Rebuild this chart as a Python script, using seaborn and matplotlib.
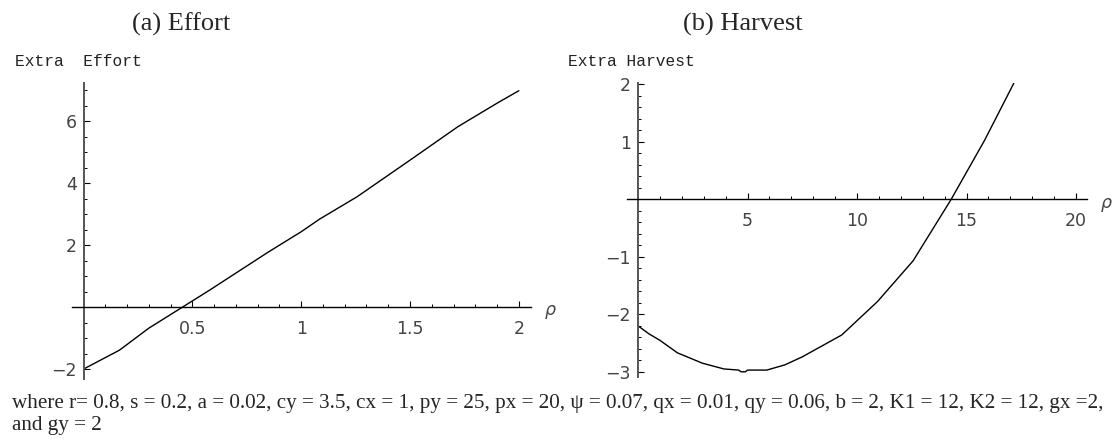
import numpy as np
import pandas as pd
import matplotlib
matplotlib.use("Agg")
import matplotlib.pyplot as plt
from matplotlib.ticker import MultipleLocator
import seaborn as sns

# ---- data ----
effort_rho = [0.0, 0.165, 0.30, 0.455, 0.58, 0.85, 1.0, 1.085, 1.257, 1.5, 1.72, 1.91, 2.0]
effort_val = [-2.0, -1.39, -0.68, 0.0, 0.55, 1.78, 2.43, 2.84, 3.56, 4.74, 5.82, 6.62, 6.98]

harvest_rho = [0.0, 0.5, 0.99, 1.8, 2.94, 3.92, 4.6, 4.7, 4.9, 5.0, 5.88, 6.7, 7.5, 9.3, 10.93, 12.56, 14.3, 15.83, 17.16]
harvest_val = [-2.20, -2.34, -2.45, -2.67, -2.85, -2.95, -2.97, -3.0, -3.0, -2.97, -2.97, -2.88, -2.74, -2.36, -1.78, -1.07, 0.0, 1.03, 2.02]

effort_xticks = [0.5, 1, 1.5, 2]
effort_xlabels = ["0.5", "1", "1.5", "2"]
effort_yticks = [-2, 2, 4, 6]
harvest_xticks = [5, 10, 15, 20]
harvest_yticks = [-3, -2, -1, 1, 2]

titles = ["(a) Effort", "(b) Harvest"]
ylabels = ["Extra  Effort", "Extra Harvest"]
caption_lines = [
    "where r= 0.8, s = 0.2, a = 0.02, cy = 3.5, cx = 1, py = 25, px = 20, \u03c8 = 0.07, "
    "qx = 0.01, qy = 0.06, b = 2, K1 = 12, K2 = 12, gx =2,",
    "and gy = 2",
]

df_e = pd.DataFrame({"rho": effort_rho, "val": effort_val})
df_h = pd.DataFrame({"rho": harvest_rho, "val": harvest_val})

sns.set_style("white")
plt.rcParams["font.family"] = ["DejaVu Sans"]

W, H = 1112, 441
fig = plt.figure(figsize=(W / 100, H / 100), dpi=100)

def px_axes(x0, x1, y0, y1):
    return fig.add_axes([x0 / W, 1 - y1 / H, (x1 - x0) / W, (y1 - y0) / H])

ax1 = px_axes(72, 531, 83.3, 379.3)
ax2 = px_axes(627.4, 1087, 83.3, 376.7)

sns.lineplot(data=df_e, x="rho", y="val", ax=ax1, color="black", linewidth=1.0, sort=False)
sns.lineplot(data=df_h, x="rho", y="val", ax=ax2, color="black", linewidth=1.0, sort=False)

ax1.set_xlim(-0.053, 2.056)
ax1.set_ylim(-2.33, 7.22)
ax2.set_xlim(-0.484, 20.5)
ax2.set_ylim(-3.085, 2.017)

tick_color = "#444444"
for ax, xt, xl, yt, xmin, ymin in [
    (ax1, effort_xticks, effort_xlabels, effort_yticks, 0.1, 0.5),
    (ax2, harvest_xticks, [str(v) for v in harvest_xticks], harvest_yticks, 1, 0.2),
]:
    ax.set_xlabel("")
    ax.set_ylabel("")
    for s in ["top", "right"]:
        ax.spines[s].set_visible(False)
    ax.spines["left"].set_position(("data", 0))
    ax.spines["bottom"].set_position(("data", 0))
    ax.spines["left"].set_color("#555555")
    ax.spines["left"].set_linewidth(1.4)
    ax.spines["bottom"].set_color("black")
    ax.spines["bottom"].set_linewidth(1.0)
    ax.set_xticks(xt)
    ax.set_xticklabels(xl)
    ax.set_yticks(yt)
    ax.set_yticklabels([str(v) if v >= 0 else "\u2212" + str(-v) for v in yt])
    ax.xaxis.set_minor_locator(MultipleLocator(xmin))
    ax.yaxis.set_minor_locator(MultipleLocator(ymin))
    ax.tick_params(which="major", direction="in", length=4, width=0.8, color="black",
                   labelsize=12.5, labelcolor=tick_color)
    ax.tick_params(which="minor", direction="in", length=2.2, width=0.7, color="black")
    ax.tick_params(axis="x", which="major", pad=9)
    ax.tick_params(axis="y", which="major", pad=5)
    ax.tick_params(left=True, bottom=True, which="both")
    ax.patch.set_alpha(0)

# rho labels
fig.text(550 / W, 1 - 310 / H, "\u03c1", fontsize=12.5, color=tick_color, style="italic",
         ha="center", va="center")
fig.text(1106 / W, 1 - 203 / H, "\u03c1", fontsize=12.5, color=tick_color, style="italic",
         ha="center", va="center")

# y-axis labels (monospace)
fig.text(15 / W, 1 - 61 / H, ylabels[0], fontsize=11.7, family="Liberation Mono",
         color="#222222", ha="left", va="center")
fig.text(568 / W, 1 - 61 / H, ylabels[1], fontsize=11.7, family="Liberation Mono",
         color="#222222", ha="left", va="center")

# titles
fig.text(181 / W, 1 - 24 / H, titles[0], fontsize=19, family="Liberation Serif",
         ha="center", va="center")
fig.text(743 / W, 1 - 24 / H, titles[1], fontsize=19, family="Liberation Serif",
         ha="center", va="center")

# caption
fig.text(12 / W, 1 - 408 / H, caption_lines[0], fontsize=15.25, family="Liberation Serif",
         ha="left", va="baseline")
fig.text(12 / W, 1 - 430 / H, caption_lines[1], fontsize=15.25, family="Liberation Serif",
         ha="left", va="baseline")

fig.savefig("out.png", dpi=100)
